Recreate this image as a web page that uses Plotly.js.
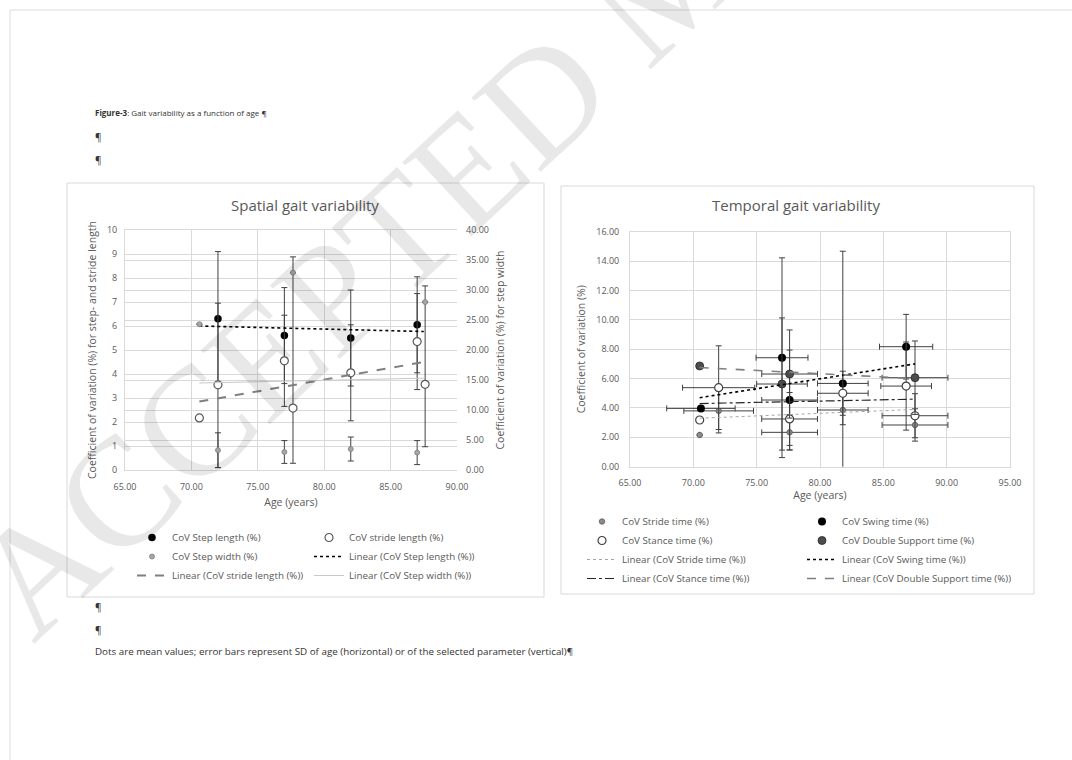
<!DOCTYPE html>
<html>
<head>
<meta charset="utf-8">
<script src="https://cdn.plot.ly/plotly-3.0.1.min.js"></script>
<style>html,body{margin:0;padding:0;background:#fff;}#chart{width:1072px;height:760px;}</style>
</head>
<body>
<div id="chart"></div>
<script>
// ---------- Spatial gait variability ----------
const ageStepLength = [72, 77, 82, 87];
const covStepLength = [6.3, 5.6, 5.5, 6.05];
const sdStepLength = [2.8, 2.0, 2.0, 2.0];

const ageStrideLength = [70.6, 72, 77, 77.65, 82, 87, 87.6];
const covStrideLength = [2.17, 3.55, 4.55, 2.58, 4.05, 5.35, 3.57];
const sdStrideLengthUp = [0, 3.4, 1.9, 6.3, 2.0, 2.0, 4.1];
const sdStrideLengthDown = [0, 3.45, 1.9, 2.3, 2.0, 2.0, 2.6];

const ageStepWidth = [70.6, 72, 77, 77.65, 82, 87, 87.6];
const covStepWidth = [24.3, 3.3, 3.0, 32.9, 3.5, 2.9, 28.0];
const sdStepWidth = [0, 2.9, 1.9, 0, 2.0, 2.0, 0];

const trendAgeSpatial = [70.6, 87.5];
const trendStepLength = [6.0, 5.77];
const trendStrideLength = [2.85, 4.5];
const trendStepWidth = [14.5, 15.3];

// ---------- Temporal gait variability ----------
const ageStrideTime = [70.5, 72, 77.6, 81.8, 87.5];
const covStrideTime = [2.16, 3.8, 2.34, 3.86, 2.84];
const sdStrideTime = [0, 1.5, 1.2, 1.0, 1.1];
const sdAgeStrideTime = [0, 2.75, 2.2, 2.0, 2.6];

const ageSwingTime = [70.6, 77, 77.6, 81.8, 86.8];
const covSwingTime = [3.97, 7.42, 4.54, 5.67, 8.17];
const sdSwingTime = [0, 6.8, 3.4, 9.0, 2.2];
const sdAgeSwingTime = [2.7, 2.05, 2.2, 2.0, 2.1];

const ageStanceTime = [70.5, 72, 77.6, 81.8, 86.8, 87.5];
const covStanceTime = [3.18, 5.38, 3.25, 5.0, 5.49, 3.47];
const sdStanceTime = [0, 2.85, 1.8, 1.5, 3.0, 1.5];
const sdAgeStanceTime = [0, 2.85, 2.2, 2.0, 2.0, 2.6];

const ageDoubleSupport = [70.5, 77, 77.6, 87.5];
const covDoubleSupport = [6.86, 5.63, 6.31, 6.06];
const sdDoubleSupport = [0, 4.5, 3.0, 2.5];
const sdAgeDoubleSupport = [0, 2.0, 2.2, 2.6];

const trendAgeTemporal = [70.5, 87.5];
const trendStrideTime = [3.3, 3.9];
const trendSwingTime = [4.7, 7.0];
const trendStanceTime = [4.3, 4.6];
const trendDoubleSupport = [6.75, 6.0];

// ---------- page geometry helpers ----------
const W = 1072, H = 760;
const px = v => v / W;
const py = v => 1 - v / H;

const TXT = '#595959';
const GRID = '#d9d9d9';
const FONT = 'Open Sans, Noto Sans, sans-serif';
const errStyle = {type: 'data', color: '#404040', thickness: 1, width: 3};

function eb(arr, minus) {
  const o = Object.assign({}, errStyle, {array: arr});
  if (minus) { o.symmetric = false; o.arrayminus = minus; }
  return o;
}

const traces = [
  {name: 'CoV Step length (%)', x: ageStepLength, y: covStepLength, mode: 'markers',
   marker: {color: '#000', size: 7.5}, error_y: eb(sdStepLength), xaxis: 'x', yaxis: 'y', legend: 'legend'},
  {name: 'CoV stride length (%)', x: ageStrideLength, y: covStrideLength, mode: 'markers',
   marker: {color: '#fff', size: 8, line: {color: '#595959', width: 1.2}},
   error_y: eb(sdStrideLengthUp, sdStrideLengthDown), xaxis: 'x', yaxis: 'y', legend: 'legend2'},
  {name: 'CoV Step width (%)', x: ageStepWidth, y: covStepWidth, mode: 'markers',
   marker: {color: '#a6a6a6', size: 5, line: {color: '#7f7f7f', width: 0.8}},
   error_y: eb(sdStepWidth), xaxis: 'x', yaxis: 'y2', legend: 'legend'},
  {name: 'Linear (CoV Step length (%))', x: trendAgeSpatial, y: trendStepLength, mode: 'lines',
   line: {color: '#000', dash: 'dot', width: 1.6}, xaxis: 'x', yaxis: 'y', legend: 'legend2'},
  {name: 'Linear (CoV stride length (%))', x: trendAgeSpatial, y: trendStrideLength, mode: 'lines',
   line: {color: '#7f7f7f', dash: 'dash', width: 2}, xaxis: 'x', yaxis: 'y', legend: 'legend'},
  {name: 'Linear (CoV Step width (%))', x: trendAgeSpatial, y: trendStepWidth, mode: 'lines',
   line: {color: '#c8c8c8', width: 1}, xaxis: 'x', yaxis: 'y2', legend: 'legend2'},

  {name: 'CoV Stride time (%)', x: ageStrideTime, y: covStrideTime, mode: 'markers',
   marker: {color: '#8c8c8c', size: 5.5, line: {color: '#595959', width: 0.8}},
   error_y: eb(sdStrideTime), error_x: eb(sdAgeStrideTime), xaxis: 'x2', yaxis: 'y3', legend: 'legend3'},
  {name: 'CoV Swing time (%)', x: ageSwingTime, y: covSwingTime, mode: 'markers',
   marker: {color: '#000', size: 8}, error_y: eb(sdSwingTime), error_x: eb(sdAgeSwingTime),
   xaxis: 'x2', yaxis: 'y3', legend: 'legend4'},
  {name: 'CoV Stance time (%)', x: ageStanceTime, y: covStanceTime, mode: 'markers',
   marker: {color: '#fff', size: 8, line: {color: '#404040', width: 1.2}},
   error_y: eb(sdStanceTime), error_x: eb(sdAgeStanceTime), xaxis: 'x2', yaxis: 'y3', legend: 'legend3'},
  {name: 'CoV Double Support time (%)', x: ageDoubleSupport, y: covDoubleSupport, mode: 'markers',
   marker: {color: '#4d4d4d', size: 8, line: {color: '#262626', width: 0.8}},
   error_y: eb(sdDoubleSupport), error_x: eb(sdAgeDoubleSupport), xaxis: 'x2', yaxis: 'y3', legend: 'legend4'},
  {name: 'Linear (CoV Stride time (%))', x: trendAgeTemporal, y: trendStrideTime, mode: 'lines',
   line: {color: '#a6a6a6', dash: 'dot', width: 1}, xaxis: 'x2', yaxis: 'y3', legend: 'legend3'},
  {name: 'Linear (CoV Swing time (%))', x: trendAgeTemporal, y: trendSwingTime, mode: 'lines',
   line: {color: '#000', dash: 'dot', width: 1.6}, xaxis: 'x2', yaxis: 'y3', legend: 'legend4'},
  {name: 'Linear (CoV Stance time (%))', x: trendAgeTemporal, y: trendStanceTime, mode: 'lines',
   line: {color: '#262626', dash: 'dashdot', width: 1.2}, xaxis: 'x2', yaxis: 'y3', legend: 'legend3'},
  {name: 'Linear (CoV Double Support time (%))', x: trendAgeTemporal, y: trendDoubleSupport, mode: 'lines',
   line: {color: '#7f7f7f', dash: 'dash', width: 1.6}, xaxis: 'x2', yaxis: 'y3', legend: 'legend4'}
];

const tickFont = {family: FONT, size: 9, color: TXT};
const axTitleFont = {family: FONT, size: 10.5, color: TXT};
const xTitleFont = {family: FONT, size: 10.5, color: TXT};
function axisBase(extra) {
  return Object.assign({
    showgrid: true, gridcolor: GRID, gridwidth: 1, zeroline: false,
    showline: true, linecolor: GRID, linewidth: 1, ticks: '',
    tickfont: tickFont, automargin: false, fixedrange: true
  }, extra);
}
function legendBase(x, y) {
  return {x: px(x), y: py(y), xanchor: 'left', yanchor: 'top', orientation: 'v',
          font: {family: FONT, size: 9.8, color: TXT}, bgcolor: 'rgba(0,0,0,0)',
          borderwidth: 0, itemwidth: 30, tracegroupgap: 0, traceorder: 'normal'};
}
function note(text, x, y, size, color) {
  return {text: text, xref: 'paper', yref: 'paper', x: px(x), y: py(y), xanchor: 'left', yanchor: 'middle',
          showarrow: false, font: {family: FONT, size: size, color: color || '#333'}};
}

const layout = {
  width: W, height: H,
  margin: {l: 0, r: 0, t: 0, b: 0, pad: 0},
  paper_bgcolor: '#fff', plot_bgcolor: 'rgba(0,0,0,0)',
  font: {family: FONT, color: TXT},
  showlegend: true,
  xaxis: axisBase({domain: [px(125), px(457)], range: [65, 90], dtick: 5, tick0: 65, tickformat: '.2f',
    anchor: 'y', mirror: true, ticklabelstandoff: 8,
    title: {text: 'Age (years)', font: xTitleFont, standoff: 6}}),
  yaxis: axisBase({domain: [py(470), py(230)], range: [0, 10], dtick: 1, tick0: 0, anchor: 'x',
    ticklabelstandoff: 5,
    title: {text: 'Coefficient of variation (%) for step- and stride length', font: axTitleFont, standoff: 8}}),
  yaxis2: axisBase({domain: [py(470), py(230)], range: [0, 40], dtick: 5, tick0: 0, tickformat: '.2f',
    overlaying: 'y', side: 'right', anchor: 'x', showline: false, ticklabelstandoff: 8,
    title: {text: 'Coefficient of variation (%) for step width', font: axTitleFont, standoff: 8}}),
  xaxis2: axisBase({domain: [px(630), px(1010)], range: [65, 95], dtick: 5, tick0: 65, tickformat: '.2f',
    anchor: 'y3', mirror: true, ticklabelstandoff: 7,
    title: {text: 'Age (years)', font: xTitleFont, standoff: 4}}),
  yaxis3: axisBase({domain: [py(466.7), py(231.7)], range: [0, 16], dtick: 2, tick0: 0, tickformat: '.2f',
    anchor: 'x2', mirror: true, ticklabelstandoff: 8,
    title: {text: 'Coefficient of variation (%)', font: axTitleFont, standoff: 8}}),
  legend: legendBase(132, 523),
  legend2: legendBase(309, 523),
  legend3: legendBase(582, 507),
  legend4: legendBase(802, 507),
  shapes: [
    {type: 'line', xref: 'paper', yref: 'paper', x0: px(10), x1: 1, y0: py(10), y1: py(10), line: {color: '#dcdcdc', width: 1}},
    {type: 'line', xref: 'paper', yref: 'paper', x0: px(10), x1: px(10), y0: py(10), y1: 0, line: {color: '#dcdcdc', width: 1}},
    {type: 'rect', xref: 'paper', yref: 'paper', x0: px(67), x1: px(544), y0: py(597), y1: py(183), line: {color: '#d9d9d9', width: 1}, layer: 'below'},
    {type: 'rect', xref: 'paper', yref: 'paper', x0: px(561), x1: px(1034), y0: py(594), y1: py(186), line: {color: '#d9d9d9', width: 1}, layer: 'below'}
  ],
  annotations: [
    {text: 'Spatial gait variability', xref: 'paper', yref: 'paper', x: px(305), y: py(205), xanchor: 'center', yanchor: 'middle', showarrow: false, font: {family: FONT, size: 15, color: TXT}},
    {text: 'Temporal gait variability', xref: 'paper', yref: 'paper', x: px(796), y: py(205), xanchor: 'center', yanchor: 'middle', showarrow: false, font: {family: FONT, size: 15, color: TXT}},
    note('<b>Figure-3</b>: Gait variability as a function of age ¶', 93, 113, 8),
    note('¶', 93, 137, 10),
    note('¶', 93, 160, 10),
    note('¶', 93, 607, 10),
    note('¶', 93, 630, 10),
    note('Dots are mean values; error bars represent SD of age (horizontal) or of the selected parameter (vertical)¶', 93, 651, 9.8),
    {text: 'ACCEPTED MANUSCRIPT', xref: 'paper', yref: 'paper', x: px(670), y: py(-20), xanchor: 'center', yanchor: 'middle', showarrow: false, textangle: -43, font: {family: 'Liberation Serif, serif', size: 155, color: 'rgba(0,0,0,0.09)'}}
  ]
};

Plotly.newPlot('chart', traces, layout, {staticPlot: true, displayModeBar: false});
</script>
</body>
</html>
